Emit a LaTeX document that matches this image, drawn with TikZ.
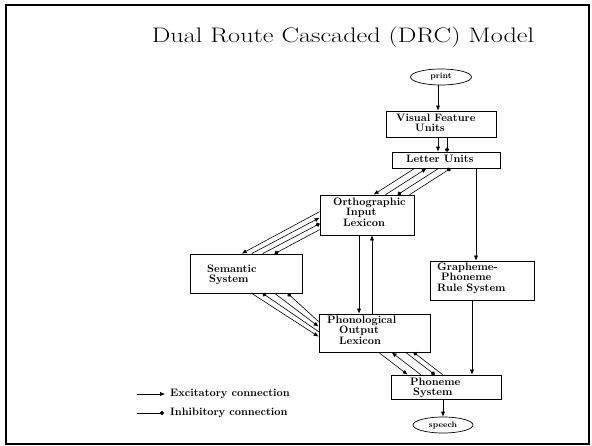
\documentclass[tikz,border=0pt]{standalone}
\usetikzlibrary{arrows.meta,shapes.geometric,calc}
\begin{document}
\begin{tikzpicture}[x=1pt,y=-1pt,
  box/.style={draw, line width=0.7pt, inner sep=0pt},
  oval/.style={draw, ellipse, line width=0.7pt, inner sep=0pt,
    font=\fontsize{8}{9}\selectfont\bfseries},
  lbl/.style={font=\fontsize{10.8}{10.2}\selectfont\bfseries, align=left,
    anchor=north west, inner sep=0pt},
  conn/.style={line width=0.6pt},
  exc/.style={conn, -{Latex[length=5pt,width=4.2pt]}},
  inh/.style={conn, -{Circle[length=4.2pt]}},
]
\useasboundingbox (0,0) rectangle (592,446);
\draw[line width=2pt] (6,5) rectangle (589,444);

\node[xscale=1.25] (title) at (343,37) {\fontsize{21}{24}\selectfont Dual Route Cascaded (DRC) Model};

% modules
\node[oval, minimum width=61pt, minimum height=16pt] (print) at (441,77) {print};
\node[box, minimum width=110pt, minimum height=26pt] (vf) at (441,124) {};
\node[box, minimum width=108pt, minimum height=16pt] (lu) at (446,160) {};
\node[box, minimum width=94pt, minimum height=40pt] (oil) at (367,215) {};
\node[box, minimum width=112pt, minimum height=39pt] (sem) at (246,273.5) {};
\node[box, minimum width=111pt, minimum height=38pt] (pol) at (374.5,333) {};
\node[box, minimum width=104pt, minimum height=39pt] (gpc) at (482,280.5) {};
\node[box, minimum width=110pt, minimum height=24pt] (ph) at (446,387) {};
\node[oval, minimum width=60pt, minimum height=16pt] (speech) at (443,425) {speech};

% module labels
\node[lbl] (vft) at (396,114) {Visual Feature\\\hspace*{19pt}Units};
\node[lbl] (lut) at (406,155) {Letter Units};
\node[lbl] (oilt) at (333,198) {Orthographic\\\hspace*{13pt}Input\\\hspace*{10pt}Lexicon};
\node[lbl] (semt) at (207,265) {Semantic\\\hspace*{2pt}System};
\node[lbl] (polt) at (327,316) {Phonological\\\hspace*{12pt}Output\\\hspace*{12pt}Lexicon};
\node[lbl] (gpct) at (437,263) {Grapheme-\\\hspace*{4pt}Phoneme\\Rule System};
\node[lbl] (pht) at (410,378) {Phoneme\\\hspace*{3pt}System};

% single connections
\draw[exc] ($(print.south)+(-3,0)$) -- ($(vf.north)+(-3,0)$);
\draw[exc] ($(vf.south)+(-3,0)$) -- ($(lu.north)+(-8,0)$);
\draw[inh] ($(vf.south)+(6,0)$) -- ($(lu.north)+(1,0)$);
\draw[exc] ($(lu.south)+(30,0)$) -- ($(gpc.north)+(-6,0)$);
\draw[exc] ($(gpc.south)+(-10,0)$) -- ($(ph.north)+(26,0)$);
\draw[exc] ($(ph.south)+(-3,0)$) -- (speech.north);
\draw[exc] ($(oil.south)+(-8,0)$) -- ($(pol.north)+(-15.5,0)$);
\draw[exc] ($(pol.north)+(-2.5,0)$) -- ($(oil.south)+(5,0)$);

% letter units <-> orthographic lexicon
\draw[exc] ($(lu.south west)+(23,0)$) -- ($(oil.north west)+(54,0)$);
\draw[exc] ($(oil.north west)+(66,0)$) -- ($(lu.south west)+(35,0)$);
\draw[inh] ($(lu.south west)+(47,0)$) -- ($(oil.north west)+(78,0)$);
\draw[inh] ($(oil.north west)+(90,0)$) -- ($(lu.south west)+(59,0)$);

% orthographic lexicon <-> semantic system
\draw[exc] ($(oil.north west)+(0,17)$) -- ($(sem.north west)+(52,0)$);
\draw[exc] ($(sem.north west)+(62,0)$) -- ($(oil.north west)+(0,23)$);
\draw[inh] ($(sem.north west)+(73,0)$) -- ($(oil.north west)+(0,29)$);
\draw[inh] ($(oil.north west)+(0,35)$) -- ($(sem.north west)+(85,0)$);

% semantic system <-> phonological lexicon
\draw[exc] ($(sem.south west)+(62,0)$) -- ($(pol.north west)+(0,23)$);
\draw[inh] ($(pol.north west)+(0,18)$) -- ($(sem.south west)+(73,0)$);
\draw[exc] ($(sem.south west)+(85,0)$) -- ($(pol.north west)+(0,13)$);
\draw[inh] ($(pol.north west)+(0,8)$) -- ($(sem.south west)+(98,0)$);

% phonological lexicon <-> phoneme system
\draw[exc] ($(pol.south west)+(60,0)$) -- ($(ph.north west)+(17,0)$);
\draw[exc] ($(ph.north west)+(30,0)$) -- ($(pol.south west)+(73,0)$);
\draw[inh] ($(pol.south west)+(87,0)$) -- ($(ph.north west)+(44,0)$);
\draw[inh] ($(ph.north west)+(52,0)$) -- ($(pol.south west)+(95,0)$);

% legend
\coordinate (e1) at (137,394);
\coordinate (i1) at (137,413);
\node[lbl, anchor=west] (et) at (170,394) {Excitatory connection};
\node[lbl, anchor=west] (it) at (170,413) {Inhibitory connection};
\draw[exc] (e1) -- ($(et.west)+(-5,0)$);
\draw[inh] (i1) -- ($(it.west)+(-6,0)$);
\end{tikzpicture}
\end{document}
